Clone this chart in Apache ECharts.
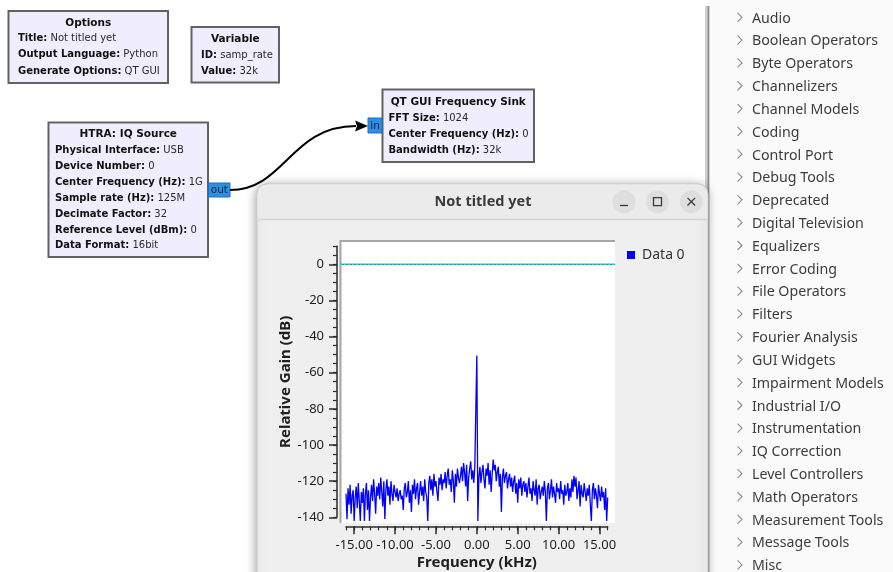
<!DOCTYPE html>
<html>
<head>
<meta charset="utf-8">
<script src="https://cdn.jsdelivr.net/npm/echarts@6/dist/echarts.min.js"></script>
<style>
html,body{margin:0;padding:0;background:#fff;}
#c{width:893px;height:572px;}
</style>
</head>
<body>
<div id="c"></div>
<script>
// ---------------- data ----------------
const freqStart = -16;      // kHz, first FFT bin
const freqStep = 0.125;     // kHz per plotted bin
const gainDb = [
 -127,-141,-124,-133,-122,-138,-128,-125,-142,-129,-123,-135,-121,-131,-142,-126,
 -132,-124,-142,-127,-121,-136,-125,-142,-129,-122,-131,-119,-127,-138,-123,-128,
 -121,-130,-118,-126,-134,-120,-141,-125,-119,-128,-123,-133,-120,-127,-131,-122,
 -126,-129,-124,-131,-127,-125,-130,-128,-136,-124,-121,-129,-126,-120,-132,-125,
 -137,-122,-127,-119,-130,-124,-121,-133,-126,-120,-128,-123,-131,-119,-126,-129,
 -142,-121,-117,-125,-119,-128,-116,-123,-120,-126,-131,-118,-122,-116,-125,-119,
 -121,-115,-124,-117,-113,-122,-119,-126,-114,-120,-132,-116,-123,-113,-118,-121,
 -117,-112,-120,-110,-115,-123,-111,-131,-118,-113,-109,-119,-114,-121,-112,-80,
 -50.5,-142,-118,-112,-121,-115,-111,-119,-124,-113,-117,-110,-122,-114,-126,-116,
 -108,-114,-111,-120,-115,-112,-123,-116,-137,-118,-113,-121,-117,-115,-124,-119,
 -116,-123,-118,-126,-120,-117,-127,-121,-132,-119,-124,-118,-128,-122,-120,-126,
 -121,-129,-123,-118,-127,-124,-131,-120,-125,-128,-119,-133,-124,-122,-130,-126,
 -123,-128,-120,-126,-142,-124,-121,-130,-125,-119,-129,-123,-127,-132,-121,-126,
 -124,-130,-120,-127,-125,-133,-122,-128,-126,-121,-131,-124,-129,-119,-126,-117,
 -123,-118,-130,-125,-120,-134,-122,-127,-129,-121,-126,-131,-124,-128,-122,-133,
 -142,-125,-121,-130,-124,-128,-135,-122,-127,-131,-123,-129,-126,-136,-124,-142,
 -129
];
const xMajorTicks = [-15, -10, -5, 0, 5, 10, 15];
const yMajorTicks = [-140, -120, -100, -80, -60, -40, -20, 0];
const triggerLevel = 0;
const canvasFreqRange = [-16.75, 16.9];   // frequency at the left/right edges of the plot canvas
const seriesName = 'Data 0';

const sidebarItems = ['Audio','Boolean Operators','Byte Operators','Channelizers','Channel Models','Coding',
 'Control Port','Debug Tools','Deprecated','Digital Television','Equalizers','Error Coding','File Operators',
 'Filters','Fourier Analysis','GUI Widgets','Impairment Models','Industrial I/O','Instrumentation',
 'IQ Correction','Level Controllers','Math Operators','Measurement Tools','Message Tools','Misc'];

const optionsBlock = { title: 'Options', params: [['Title:', 'Not titled yet'], ['Output Language:', 'Python'], ['Generate Options:', 'QT GUI']] };
const variableBlock = { title: 'Variable', params: [['ID:', 'samp_rate'], ['Value:', '32k']] };
const sourceBlock = { title: 'HTRA: IQ Source', params: [['Physical Interface:', 'USB'], ['Device Number:', '0'],
  ['Center Frequency (Hz):', '1G'], ['Sample rate (Hz):', '125M'], ['Decimate Factor:', '32'],
  ['Reference Level (dBm):', '0'], ['Data Format:', '16bit']] };
const sinkBlock = { title: 'QT GUI Frequency Sink', params: [['FFT Size:', '1024'], ['Center Frequency (Hz):', '0'], ['Bandwidth (Hz):', '32k']] };

const spectrum = gainDb.map((v, i) => [freqStart + i * freqStep, v]);

// ---------------- graphics (GUI decoration) ----------------
const G = [];
const FF = 'DejaVu Sans';
G.push({type:'rect', z:0, shape:{x:0,y:0,width:893,height:572}, style:{fill:'#ffffff'}});
G.push({type:'rect', z:0, shape:{x:709,y:0,width:184,height:572}, style:{fill:'#fafafa'}});
G.push({type:'rect', z:0, shape:{x:705,y:6,width:5,height:566}, style:{fill:'#d2d2d2'}});
G.push({type:'rect', z:0, shape:{x:707.5,y:6,width:1.5,height:566}, style:{fill:'#8f8f8f'}});
sidebarItems.forEach((t, k) => {
  const y = 17.3 + k * 22.82;
  G.push({type:'polyline', z:1, shape:{points:[[737.5,y-4.5],[742,y],[737.5,y+4.5]]}, style:{stroke:'#8a8a8a', lineWidth:1.1, fill:null}});
  G.push({type:'text', z:1, x:752, y:y + 1.3, style:{text:t, fontFamily:'Noto Sans', fontSize:14.2, fill:'#3c3c3c', textAlign:'left', textVerticalAlign:'middle'}});
});

function block(b, x, y, w, h, titleY, lineX, lineY0, lineStep) {
  G.push({type:'rect', z:1, shape:{x:x,y:y,width:w,height:h}, style:{fill:'#f0edfd', stroke:'#626262', lineWidth:2}});
  G.push({type:'text', z:2, x:x + w/2, y:titleY, style:{text:b.title, fontFamily:FF, fontSize:10.5, fontWeight:'bold', fill:'#111', textAlign:'center', textVerticalAlign:'middle'}});
  b.params.forEach((p, k) => {
    G.push({type:'text', z:2, x:lineX, y:lineY0 + k*lineStep, style:{
      text:'{b|' + p[0] + '} ' + p[1], fontFamily:FF, fontSize:10, fill:'#2a2a2a', textAlign:'left', textVerticalAlign:'middle',
      rich:{b:{fontFamily:FF, fontSize:10, fontWeight:'bold', fill:'#111'}}}});
  });
}
block(optionsBlock, 8.5, 11, 159.5, 72, 23.5, 18, 38.5, 16.3);
block(variableBlock, 191.5, 27, 87.5, 55.5, 39.5, 201, 55.5, 16.3);
block(sourceBlock, 48.5, 122.5, 159.5, 134.5, 134.5, 55, 150.5, 15.9);
block(sinkBlock, 382.5, 89.5, 151.5, 72.5, 102.5, 388.5, 118.5, 16);

// ports
G.push({type:'rect', z:2, shape:{x:208.5,y:183,width:21.5,height:14}, style:{fill:'#2b8fe8', stroke:'#1c6fc0', lineWidth:1}});
G.push({type:'text', z:3, x:219.3, y:190.2, style:{text:'out', fontFamily:FF, fontSize:10.5, fill:'#142030', textAlign:'center', textVerticalAlign:'middle'}});
G.push({type:'rect', z:2, shape:{x:368,y:118,width:14,height:15}, style:{fill:'#2b8fe8', stroke:'#1c6fc0', lineWidth:1}});
G.push({type:'text', z:3, x:375, y:126, style:{text:'in', fontFamily:FF, fontSize:10.5, fill:'#142030', textAlign:'center', textVerticalAlign:'middle'}});
// connection
G.push({type:'bezierCurve', z:2, shape:{x1:230,y1:190,cpx1:285,cpy1:190,cpx2:290,cpy2:126,x2:356,y2:126}, style:{stroke:'#000', lineWidth:2, fill:null}});
G.push({type:'polygon', z:2, shape:{points:[[368,126],[355,120.5],[357,126],[355,131.5]]}, style:{fill:'#000'}});

// window
G.push({type:'rect', z:3, shape:{x:257,y:184,width:451,height:400,r:[10,10,0,0]}, style:{fill:'#efefef', stroke:'#c9c9c9', lineWidth:1, shadowBlur:10, shadowColor:'rgba(0,0,0,0.35)', shadowOffsetX:-1, shadowOffsetY:1}});
G.push({type:'rect', z:3, shape:{x:257.5,y:184.5,width:450,height:35,r:[10,10,0,0]}, style:{fill:'#ebebeb'}});
G.push({type:'line', z:3, shape:{x1:257.5,y1:219.5,x2:707.5,y2:219.5}, style:{stroke:'#d4d4d4', lineWidth:1.5}});
G.push({type:'text', z:4, x:483, y:202, style:{text:'Not titled yet', fontFamily:'Noto Sans', fontSize:14.5, fontWeight:'bold', fill:'#3a3a3a', textAlign:'center', textVerticalAlign:'middle'}});
[624, 657.5, 691.3].forEach((cx) => {
  G.push({type:'circle', z:4, shape:{cx:cx, cy:201.7, r:11.5}, style:{fill:'#dedede'}});
});
G.push({type:'line', z:5, shape:{x1:620,y1:205.5,x2:628,y2:205.5}, style:{stroke:'#3a3a3a', lineWidth:1.3}});
G.push({type:'rect', z:5, shape:{x:653.5,y:197.7,width:8,height:8}, style:{fill:null, stroke:'#3a3a3a', lineWidth:1.3}});
G.push({type:'line', z:5, shape:{x1:687.5,y1:197.9,x2:695.1,y2:205.5}, style:{stroke:'#3a3a3a', lineWidth:1.3}});
G.push({type:'line', z:5, shape:{x1:695.1,y1:197.9,x2:687.5,y2:205.5}, style:{stroke:'#3a3a3a', lineWidth:1.3}});
// plot canvas
G.push({type:'rect', z:5, shape:{x:340,y:241,width:275,height:282}, style:{fill:'#ffffff'}});
G.push({type:'polyline', z:6, shape:{points:[[340.5,523],[340.5,241],[615,241]]}, style:{stroke:'#a5a5a5', lineWidth:2, fill:null}});

// ---------------- chart ----------------
const chart = echarts.init(document.getElementById('c'), null, {renderer:'canvas'});
const axisCol = '#2b2b2b';
const labelFont = {fontFamily:'Noto Sans', fontSize:13, color:'#1e1e1e'};
const hiddenAxis = {show:false, axisLine:{show:false, onZero:false}, axisTick:{show:false}, axisLabel:{show:false}, splitLine:{show:false}};
const option = {
  animation: false,
  graphic: {elements: G},
  grid: [
    {left: 346, top: 246.2, width: 261.7, height: 271.1, containLabel: false},
    {left: 340, top: 246.2, width: 275, height: 271.1, containLabel: false}
  ],
  legend: {data:[seriesName], left: 622, top: 243, icon:'rect', itemWidth: 8, itemHeight: 8, z: 20,
    textStyle:{fontFamily:'Noto Sans', fontSize:14, color:'#333', padding:[0,0,0,2]}},
  xAxis: [
    {type:'value', gridIndex:0, min:-16, max:16, position:'bottom', offset:9, z:10,
     axisLine:{show:true, onZero:false, lineStyle:{color:axisCol, width:1.5}},
     axisTick:{show:true, customValues:xMajorTicks, length:8, lineStyle:{color:axisCol, width:1.5}},
     axisLabel:{show:true, customValues:xMajorTicks, margin:12, formatter:(v)=>v.toFixed(2), ...labelFont},
     splitLine:{show:false},
     name:'Frequency (kHz)', nameLocation:'middle', nameGap:29,
     nameTextStyle:{fontFamily:'Noto Sans', fontSize:15, fontWeight:'bold', color:'#1e1e1e'}},
    {type:'value', gridIndex:0, min:-16, max:16, interval:1, position:'bottom', offset:9, z:10,
     axisLine:{show:false, onZero:false}, axisTick:{show:true, length:4, lineStyle:{color:axisCol, width:1.2}},
     axisLabel:{show:false}, splitLine:{show:false}},
    {type:'value', gridIndex:1, min:canvasFreqRange[0], max:canvasFreqRange[1], ...hiddenAxis}
  ],
  yAxis: [
    {type:'value', gridIndex:0, min:-140, max:10, position:'left', offset:9, z:10,
     axisLine:{show:true, onZero:false, lineStyle:{color:axisCol, width:1.5}},
     axisTick:{show:true, customValues:yMajorTicks, length:8, lineStyle:{color:axisCol, width:1.5}},
     axisLabel:{show:true, customValues:yMajorTicks, margin:13, ...labelFont},
     splitLine:{show:false},
     name:'Relative Gain (dB)', nameLocation:'middle', nameGap:43, nameRotate:90,
     nameTextStyle:{fontFamily:'Noto Sans', fontSize:15, fontWeight:'bold', color:'#1e1e1e'}},
    {type:'value', gridIndex:0, min:-140, max:10, interval:5, position:'left', offset:9, z:10,
     axisLine:{show:false, onZero:false}, axisTick:{show:true, length:4, lineStyle:{color:axisCol, width:1.2}},
     axisLabel:{show:false}, splitLine:{show:false}},
    {type:'value', gridIndex:1, min:-140, max:10, ...hiddenAxis}
  ],
  series: [
    {name:'trigger', type:'line', xAxisIndex:2, yAxisIndex:2, z:11, silent:true, showSymbol:false,
     data:[[canvasFreqRange[0], triggerLevel],[canvasFreqRange[1], triggerLevel]],
     lineStyle:{color:'#0d5d66', width:1.2}},
    {name:'trigger2', type:'line', xAxisIndex:2, yAxisIndex:2, z:11, silent:true, showSymbol:false,
     data:[[canvasFreqRange[0], triggerLevel],[canvasFreqRange[1], triggerLevel]],
     lineStyle:{color:'#22e6e6', width:1.2, type:[2,2]}},
    {name:seriesName, type:'line', xAxisIndex:0, yAxisIndex:0, z:12, clip:false, showSymbol:false, symbol:'none',
     data: spectrum, itemStyle:{color:'#0000ff'}, lineStyle:{color:'#0000ff', width:1.3}}
  ]
};
chart.setOption(option);
</script>
</body>
</html>
